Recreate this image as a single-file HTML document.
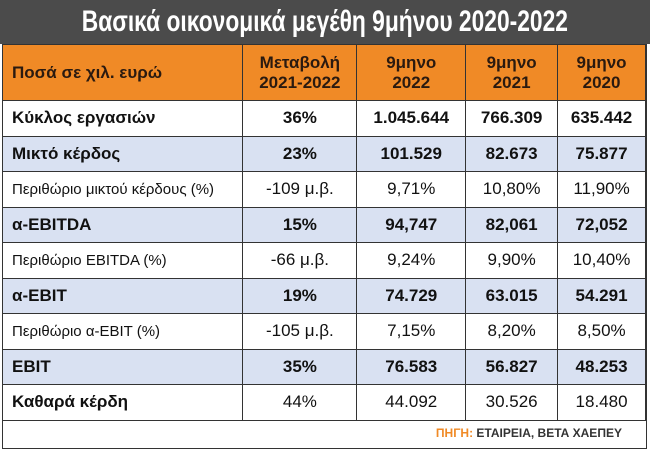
<!DOCTYPE html>
<html><head><meta charset="utf-8"><style>
body{margin:0;width:650px;height:451px;background:#fff;overflow:hidden;font-family:"Liberation Sans",sans-serif;}
.wrap{position:absolute;left:2px;top:0;width:645px;height:449px;border:1px solid #333;border-top:none;box-sizing:border-box;}
.title{position:absolute;left:0;top:0;width:650px;height:44px;background:#4b4b4b;color:#fff;font-weight:bold;font-size:30px;line-height:44px;text-align:center;}
.title span{display:inline-block;transform:scaleX(0.76);white-space:nowrap;}
table{position:absolute;left:2px;top:44px;border-collapse:collapse;width:644px;}
td{border:1.5px solid #333;height:35.5px;padding:0;font-size:17px;text-align:center;color:#111;box-sizing:border-box;}
td:first-child{text-align:left;padding-left:9px;}
tr.h td{background:#f08a26;height:56px;font-weight:bold;font-size:17px;line-height:20px;color:#2a1a10;}
tr.b td{background:#d9e1f2;}
tr.bold td{font-weight:bold;}
.n{font-size:15px;}
.foot{position:absolute;right:28px;top:426px;font-size:12px;font-weight:bold;color:#333;}
.foot b{color:#f08a26;}
</style></head><body>
<div class="wrap"></div>
<div class="title"><span>Βασικά οικονομικά μεγέθη 9μήνου 2020-2022</span></div>
<table>
<colgroup><col style="width:241px"><col style="width:114px"><col style="width:109px"><col style="width:92px"><col style="width:88px"></colgroup>
<tr class="h"><td>Ποσά σε χιλ. ευρώ</td><td>Μεταβολή<br>2021-2022</td><td>9μηνο<br>2022</td><td>9μηνο<br>2021</td><td>9μηνο<br>2020</td></tr>
<tr class="bold"><td>Κύκλος εργασιών</td><td>36%</td><td>1.045.644</td><td>766.309</td><td>635.442</td></tr>
<tr class="b bold"><td>Μικτό κέρδος</td><td>23%</td><td>101.529</td><td>82.673</td><td>75.877</td></tr>
<tr><td class="n">Περιθώριο μικτού κέρδους (%)</td><td>-109 μ.β.</td><td>9,71%</td><td>10,80%</td><td>11,90%</td></tr>
<tr class="b bold"><td>α-EBITDA</td><td>15%</td><td>94,747</td><td>82,061</td><td>72,052</td></tr>
<tr><td class="n">Περιθώριο EBITDA (%)</td><td>-66 μ.β.</td><td>9,24%</td><td>9,90%</td><td>10,40%</td></tr>
<tr class="b bold"><td>α-EBIT</td><td>19%</td><td>74.729</td><td>63.015</td><td>54.291</td></tr>
<tr><td class="n">Περιθώριο α-EBIT (%)</td><td>-105 μ.β.</td><td>7,15%</td><td>8,20%</td><td>8,50%</td></tr>
<tr class="b bold"><td>EBIT</td><td>35%</td><td>76.583</td><td>56.827</td><td>48.253</td></tr>
<tr><td style="font-weight:bold">Καθαρά κέρδη</td><td>44%</td><td>44.092</td><td>30.526</td><td>18.480</td></tr>
</table>
<div class="foot"><b>ΠΗΓΗ:</b> ΕΤΑΙΡΕΙΑ, ΒΕΤΑ ΧΑΕΠΕΥ</div>
</body></html>
